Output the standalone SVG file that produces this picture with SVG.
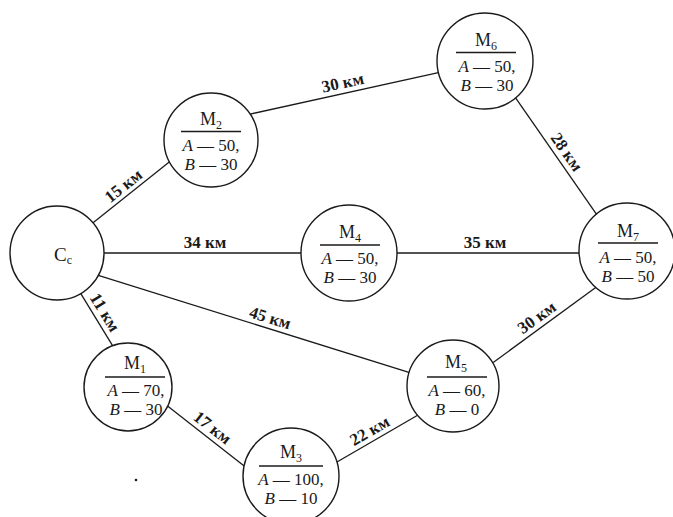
<svg xmlns="http://www.w3.org/2000/svg" width="673" height="517" viewBox="0 0 673 517">
<style>
.bg{fill:#ffffff}
.edge line{stroke:#1a1a1a;stroke-width:1.3;fill:none}
.node circle{fill:#ffffff;stroke:#1a1a1a;stroke-width:1.4}
.node line{stroke:#1a1a1a;stroke-width:1.3}
text{font-family:"Liberation Serif","DejaVu Serif",serif;fill:#1a1a1a}
.m{font-size:18px;text-anchor:middle}
.c{font-size:19px;text-anchor:middle}
.sub{font-size:12px}
.v{font-size:17px;text-anchor:middle}
.i{font-style:italic}
.lbl{font-size:17px;font-weight:bold;text-anchor:middle}
</style>
<rect class="bg" x="0" y="0" width="673" height="517"/>
<g id="connectors" class="edge">
  <line x1="89.3" y1="225.7" x2="172.7" y2="159.3"/>
  <line x1="100" y1="253" x2="306" y2="253"/>
  <line x1="77.9" y1="288.9" x2="114.1" y2="348.1"/>
  <line x1="94.3" y1="274.2" x2="413.7" y2="373.8"/>
  <line x1="249.1" y1="114.3" x2="442.9" y2="71.7"/>
  <line x1="392" y1="253" x2="585" y2="253"/>
  <line x1="511.6" y1="92.1" x2="600.4" y2="219.9"/>
  <line x1="493.2" y1="362.5" x2="599.8" y2="284.5"/>
  <line x1="165.3" y1="404.3" x2="247.7" y2="468.7"/>
  <line x1="331.8" y1="465" x2="423.2" y2="412"/>
  <text class="lbl" transform="translate(130,194) rotate(-38.6)" x="0" y="-5">15 км</text>
  <text class="lbl" transform="translate(205,253)" x="0" y="-5">34 км</text>
  <text class="lbl" transform="translate(96,318) rotate(58.5)" x="0" y="-5">11 км</text>
  <text class="lbl" transform="translate(267,328) rotate(17.3)" x="0" y="-5">45 км</text>
  <text class="lbl" transform="translate(345,93) rotate(-12.4)" x="0" y="-5">30 км</text>
  <text class="lbl" transform="translate(485,253)" x="0" y="-5">35 км</text>
  <text class="lbl" transform="translate(558,158) rotate(55.2)" x="0" y="-5">28 км</text>
  <text class="lbl" transform="translate(543,326) rotate(-36.2)" x="0" y="-5">30 км</text>
  <text class="lbl" transform="translate(206,436) rotate(38)" x="0" y="-5">17 км</text>
  <text class="lbl" transform="translate(375,440) rotate(-30.1)" x="0" y="-5">22 км</text>
</g>
<g id="Cc" class="node">
  <circle cx="57" cy="253" r="47"/>
  <text class="c" x="63" y="261">C<tspan class="sub" dy="3">c</tspan></text>
</g>
<g id="M2" class="node">
  <circle cx="211" cy="140" r="47"/>
  <text class="m" x="211" y="125">M<tspan class="sub" dy="4">2</tspan></text>
  <line x1="181" y1="131.5" x2="241" y2="131.5"/>
  <text class="v" x="211" y="150.5"><tspan class="i">A</tspan> — 50,</text>
  <text class="v" x="211" y="169.5"><tspan class="i">B</tspan> — 30</text>
</g>
<g id="M6" class="node">
  <circle cx="485" cy="61" r="48"/>
  <text class="m" x="486" y="46">M<tspan class="sub" dy="4">6</tspan></text>
  <line x1="456" y1="52.5" x2="516" y2="52.5"/>
  <text class="v" x="487" y="71.5"><tspan class="i">A</tspan> — 50,</text>
  <text class="v" x="487" y="90.5"><tspan class="i">B</tspan> — 30</text>
</g>
<g id="M4" class="node">
  <circle cx="349" cy="253" r="48"/>
  <text class="m" x="350" y="238">M<tspan class="sub" dy="4">4</tspan></text>
  <line x1="320" y1="245" x2="380" y2="245"/>
  <text class="v" x="350" y="264"><tspan class="i">A</tspan> — 50,</text>
  <text class="v" x="350" y="283"><tspan class="i">B</tspan> — 30</text>
</g>
<g id="M7" class="node">
  <circle cx="627" cy="251" r="48"/>
  <text class="m" x="628" y="237">M<tspan class="sub" dy="4">7</tspan></text>
  <line x1="598" y1="243" x2="658" y2="243"/>
  <text class="v" x="628" y="262.5"><tspan class="i">A</tspan> — 50,</text>
  <text class="v" x="628" y="281.5"><tspan class="i">B</tspan> — 50</text>
</g>
<g id="M1" class="node">
  <circle cx="128" cy="387" r="44"/>
  <text class="m" x="135" y="369">M<tspan class="sub" dy="4">1</tspan></text>
  <line x1="105" y1="377" x2="165" y2="377"/>
  <text class="v" x="136" y="395.5"><tspan class="i">A</tspan> — 70,</text>
  <text class="v" x="136" y="414.5"><tspan class="i">B</tspan> — 30</text>
</g>
<g id="M5" class="node">
  <circle cx="453" cy="386" r="46"/>
  <text class="m" x="456" y="368">M<tspan class="sub" dy="4">5</tspan></text>
  <line x1="427" y1="377" x2="487" y2="377"/>
  <text class="v" x="457" y="395.5"><tspan class="i">A</tspan> — 60,</text>
  <text class="v" x="457" y="414.5"><tspan class="i">B</tspan> — 0</text>
</g>
<g id="M3" class="node">
  <circle cx="291" cy="476" r="48"/>
  <text class="m" x="291" y="458">M<tspan class="sub" dy="4">3</tspan></text>
  <line x1="259" y1="466" x2="323" y2="466"/>
  <text class="v" x="291" y="485"><tspan class="i">A</tspan> — 100,</text>
  <text class="v" x="291" y="504"><tspan class="i">B</tspan> — 10</text>
</g>
<circle cx="136" cy="480" r="1.3" fill="#1a1a1a"/>
</svg>
